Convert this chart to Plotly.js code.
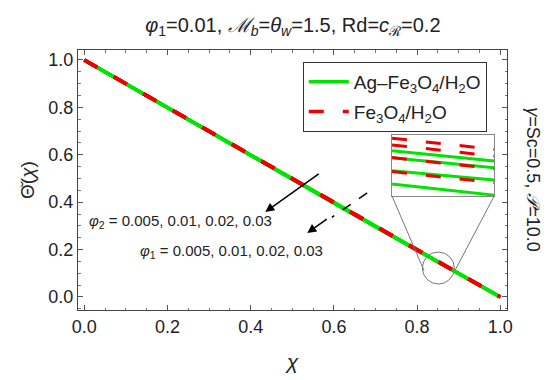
<!DOCTYPE html>
<html>
<head>
<meta charset="utf-8">
<script src="https://cdn.plot.ly/plotly-3.0.1.min.js"></script>
<style>html,body{margin:0;padding:0;background:#fff;}#chart{width:550px;height:380px;}</style>
</head>
<body>
<div id="chart"></div>
<script>
// Main curves: chi grid and temperature profiles
const chi = [0, 0.1, 0.2, 0.3, 0.4, 0.5, 0.6, 0.7, 0.8, 0.9, 1.0];
// Ag-Fe3O4/H2O for phi2 = 0.005, 0.01, 0.02, 0.03
const thetaHybrid1 = [1.0, 0.8995, 0.7990, 0.6986, 0.5983, 0.4981, 0.3980, 0.2981, 0.1984, 0.0990, 0.0];
const thetaHybrid2 = [1.0, 0.8993, 0.7987, 0.6982, 0.5978, 0.4976, 0.3975, 0.2976, 0.1980, 0.0988, 0.0];
const thetaHybrid3 = [1.0, 0.8990, 0.7981, 0.6974, 0.5969, 0.4966, 0.3966, 0.2968, 0.1974, 0.0985, 0.0];
const thetaHybrid4 = [1.0, 0.8987, 0.7975, 0.6966, 0.5960, 0.4957, 0.3957, 0.2961, 0.1968, 0.0982, 0.0];
// Fe3O4/H2O for phi1 = 0.005, 0.01, 0.02, 0.03
const thetaMono1 = [1.0, 0.8997, 0.7994, 0.6991, 0.5989, 0.4988, 0.3987, 0.2987, 0.1989, 0.0993, 0.0];
const thetaMono2 = [1.0, 0.8996, 0.7992, 0.6988, 0.5986, 0.4984, 0.3983, 0.2984, 0.1986, 0.0992, 0.0];
const thetaMono3 = [1.0, 0.8993, 0.7987, 0.6982, 0.5978, 0.4976, 0.3975, 0.2976, 0.1980, 0.0988, 0.0];
const thetaMono4 = [1.0, 0.8990, 0.7981, 0.6974, 0.5969, 0.4966, 0.3966, 0.2968, 0.1974, 0.0985, 0.0];

// Magnified view (inset) near chi ~ 0.85
const insetChi = [0.845, 0.865];
const insetHybrid = [[0.15229, 0.14722], [0.14884, 0.14392], [0.14245, 0.13786], [0.13591, 0.13048]];
const insetMono = [[0.15844, 0.15295], [0.15516, 0.14967], [0.14893, 0.14344], [0.14205, 0.13656]];

const phiValues = "0.005, 0.01, 0.02, 0.03";
const xTickVals = [0, 0.2, 0.4, 0.6, 0.8, 1.0];
const yTickVals = [0, 0.2, 0.4, 0.6, 0.8, 1.0];

const GREEN = '#00e400';
const RED = '#ee0000';
const DASH = '15px,19px';

const traces = [];
[thetaHybrid1, thetaHybrid2, thetaHybrid3, thetaHybrid4].forEach((y, i) => {
  traces.push({x: chi, y: y, mode: 'lines', line: {color: GREEN, width: 3.5},
    name: 'Ag–Fe<sub>3</sub>O<sub>4</sub>/H<sub>2</sub>O', showlegend: i === 0, legendgroup: 'h', hoverinfo: 'skip'});
});
[thetaMono1, thetaMono2, thetaMono3, thetaMono4].forEach((y, i) => {
  traces.push({x: chi, y: y, mode: 'lines', line: {color: RED, width: 3.5, dash: DASH},
    name: 'Fe<sub>3</sub>O<sub>4</sub>/H<sub>2</sub>O', showlegend: i === 0, legendgroup: 'm', hoverinfo: 'skip'});
});
insetHybrid.forEach(y => {
  traces.push({x: insetChi, y: y, xaxis: 'x2', yaxis: 'y2', mode: 'lines',
    line: {color: GREEN, width: 3}, showlegend: false, hoverinfo: 'skip'});
});
insetMono.forEach(y => {
  traces.push({x: insetChi, y: y, xaxis: 'x2', yaxis: 'y2', mode: 'lines',
    line: {color: RED, width: 3, dash: DASH}, showlegend: false, hoverinfo: 'skip'});
});

const FONT = 'Liberation Sans, Arial, sans-serif';
const axisCommon = {
  showline: true, mirror: 'ticks', linecolor: '#444', linewidth: 1,
  ticks: 'inside', ticklen: 5, tickcolor: '#555', tickwidth: 1,
  showgrid: false, zeroline: false, tickformat: '.1f',
  tickfont: {family: FONT, size: 18, color: '#222'},
  minor: {ticks: 'inside', ticklen: 2.5, dtick: 0.05, tickcolor: '#777', showgrid: false}
};

const layout = {
  width: 550, height: 380,
  margin: {l: 78, r: 43, t: 50, b: 70},
  paper_bgcolor: '#fff', plot_bgcolor: '#fff',
  font: {family: FONT, color: '#222'},
  title: {text: '<i>φ</i><sub>1</sub>=0.01, <i>ℳ</i><sub><i>b</i></sub>=<i>θ</i><sub><i>w</i></sub>=1.5, Rd=<i>c</i><sub>ℛ</sub>=0.2',
    x: 0.5325, xanchor: 'center', y: 0.935, yanchor: 'middle', font: {family: FONT, size: 20, color: '#222'}},
  xaxis: Object.assign({}, axisCommon, {range: [-0.015, 1.016], tickvals: xTickVals,
    title: {text: '<i>χ</i>', font: {family: FONT, size: 21, color: '#222'}, standoff: 18}}),
  yaxis: Object.assign({}, axisCommon, {range: [-0.055, 1.042], tickvals: yTickVals,
    title: {text: 'Θ̆(<i>χ</i>)', font: {family: FONT, size: 19, color: '#222'}, standoff: 8}}),
  xaxis2: {domain: [0.732, 0.97], anchor: 'y2', range: insetChi, showline: true, mirror: true,
    linecolor: '#888', linewidth: 1, showticklabels: false, ticks: '', showgrid: false, zeroline: false},
  yaxis2: {domain: [0.438, 0.673], anchor: 'x2', range: [0.13, 0.16], showline: true, mirror: true,
    linecolor: '#888', linewidth: 1, showticklabels: false, ticks: '', showgrid: false, zeroline: false},
  legend: {x: 0.524, y: 0.954, xanchor: 'left', yanchor: 'top', bgcolor: '#fff',
    bordercolor: '#333', borderwidth: 1, font: {family: FONT, size: 19, color: '#222'},
    itemwidth: 40, tracegroupgap: 2},
  shapes: [
    {type: 'circle', xref: 'x', yref: 'y', xsizemode: 'pixel', ysizemode: 'pixel',
     xanchor: 0.851, yanchor: 0.122, x0: -16, x1: 16, y0: -16, y1: 16,
     line: {color: '#777', width: 1}},
    {type: 'line', xref: 'paper', yref: 'paper', x0: 0.732, y0: 0.438, x1: 0.8065, y1: 0.152,
     line: {color: '#777', width: 1}},
    {type: 'line', xref: 'paper', yref: 'paper', x0: 0.97, y0: 0.438, x1: 0.8788, y1: 0.152,
     line: {color: '#777', width: 1}},
    {type: 'line', xref: 'x', yref: 'y', x0: 0.680, y0: 0.439, x1: 0.595, y1: 0.336,
     line: {color: '#000', width: 1.5, dash: '10px,10px'}}
  ],
  annotations: [
    {xref: 'x', yref: 'y', x: 0.435, y: 0.359, ax: 55, ay: -39, axref: 'pixel', ayref: 'pixel',
     showarrow: true, arrowhead: 2, arrowsize: 1.2, arrowwidth: 1.5, arrowcolor: '#000', text: ''},
    {xref: 'x', yref: 'y', x: 0.536, y: 0.270, ax: 21, ay: -15,
     showarrow: true, arrowhead: 2, arrowsize: 1.2, arrowwidth: 1.5, arrowcolor: '#000', text: ''},
    {xref: 'paper', yref: 'paper', x: 0.02, y: 0.342, xanchor: 'left', yanchor: 'middle', showarrow: false,
     text: '<i>φ</i><sub>2</sub> = ' + phiValues, font: {family: FONT, size: 15, color: '#222'}},
    {xref: 'paper', yref: 'paper', x: 0.14, y: 0.225, xanchor: 'left', yanchor: 'middle', showarrow: false,
     text: '<i>φ</i><sub>1</sub> = ' + phiValues, font: {family: FONT, size: 15, color: '#222'}},
    {xref: 'paper', yref: 'paper', x: 1.06, y: 0.5, xanchor: 'center', yanchor: 'middle', showarrow: false,
     textangle: 90, text: '<i>γ</i>=Sc=0.5, <i>𝒫</i>=10.0', font: {family: FONT, size: 18, color: '#222'}}
  ]
};

Plotly.newPlot('chart', traces, layout, {staticPlot: true, displayModeBar: false});
</script>
</body>
</html>
